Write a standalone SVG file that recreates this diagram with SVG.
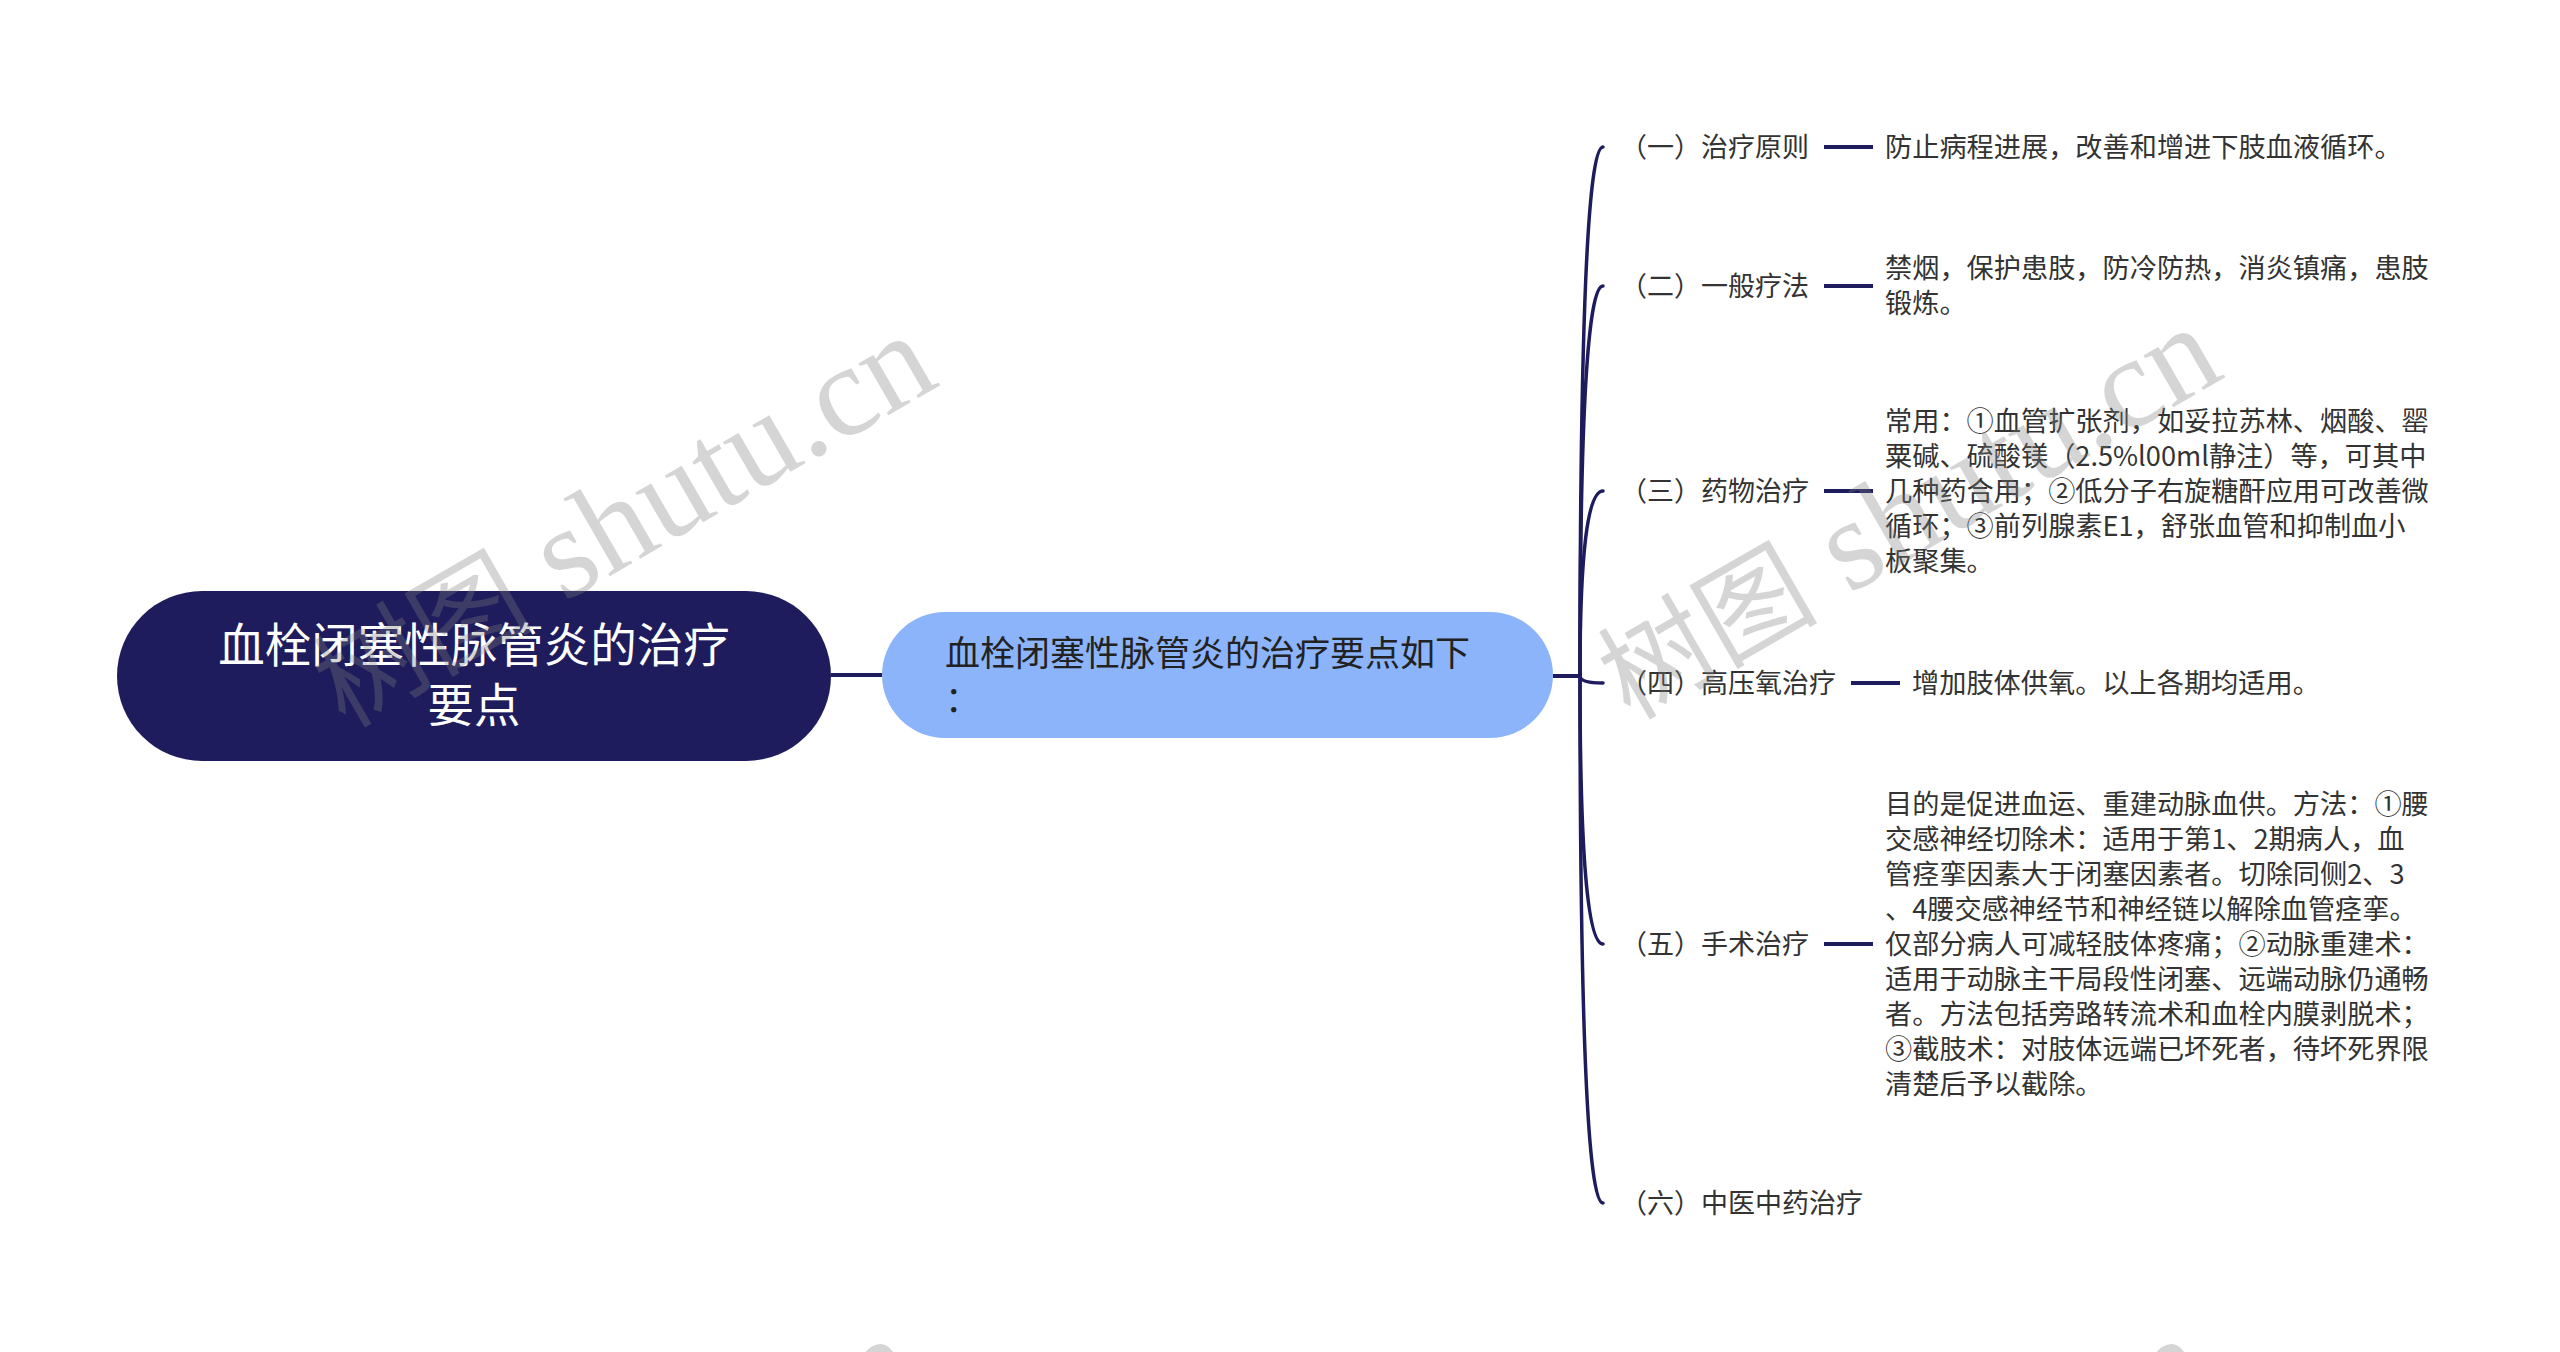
<svg xmlns="http://www.w3.org/2000/svg" width="2560" height="1352" viewBox="0 0 2560 1352">
<style>
.bg{fill:#ffffff}
.root{fill:#1e1c5c}
.main{fill:#8cb4fa}
.link{fill:none;stroke:#1e1c5c;stroke-width:3.5;stroke-linecap:round}
.tick{fill:none;stroke:#1e1c5c;stroke-width:4}
.t{font-family:"Noto Sans CJK SC","Noto Sans",sans-serif}
.rt{font-size:46.5px;fill:#ffffff}
.mt{font-size:35px;fill:#222222}
.lb{font-size:27px;fill:#333333}
.ct{font-size:27.2px;fill:#333333}
.wm{fill:#808080;opacity:0.32}
.wc{font-family:"Noto Sans CJK SC",sans-serif;font-size:110px}
.wl{font-family:"Liberation Serif",serif;font-size:130px}
</style>
<rect class="bg" x="0" y="0" width="2560" height="1352"/>
<g id="connectors">
<line class="tick" x1="831" y1="675" x2="882" y2="675"/>
<line class="tick" x1="1553" y1="676" x2="1580" y2="676"/>
<path class="link" d="M1580 676 Q1580 147 1603 147"/>
<path class="link" d="M1580 676 Q1580 286 1603 286"/>
<path class="link" d="M1580 676 Q1580 491 1603 491"/>
<path class="link" d="M1580 676 Q1580 683 1603 683"/>
<path class="link" d="M1580 676 Q1580 944 1603 944"/>
<path class="link" d="M1580 676 Q1580 1203 1603 1203"/>
<line class="tick" x1="1824" y1="147" x2="1873" y2="147"/>
<line class="tick" x1="1824" y1="286" x2="1873" y2="286"/>
<line class="tick" x1="1824" y1="491" x2="1873" y2="491"/>
<line class="tick" x1="1851" y1="683" x2="1900" y2="683"/>
<line class="tick" x1="1824" y1="944" x2="1873" y2="944"/>
</g>
<g id="root-node">
<rect class="root" x="117" y="591" width="714" height="170" rx="85" ry="85"/>
<text class="t rt" text-anchor="middle"><tspan x="474" y="662">血栓闭塞性脉管炎的治疗</tspan><tspan x="474" y="722">要点</tspan></text>
</g>
<g id="main-node">
<rect class="main" x="882" y="612" width="671" height="126" rx="63" ry="63"/>
<text class="t mt"><tspan x="945" y="666">血栓闭塞性脉管炎的治疗要点如下</tspan><tspan x="945" y="712">：</tspan></text>
</g>
<g id="n1">
<text class="t lb" x="1620" y="157">（一）治疗原则</text>
<text class="t ct" x="1885" y="157">防止病程进展，改善和增进下肢血液循环。</text>
</g>
<g id="n2">
<text class="t lb" x="1620" y="296">（二）一般疗法</text>
<text class="t ct"><tspan x="1885" y="278">禁烟，保护患肢，防冷防热，消炎镇痛，患肢</tspan><tspan x="1885" y="313">锻炼。</tspan></text>
</g>
<g id="n3">
<text class="t lb" x="1620" y="501">（三）药物治疗</text>
<text class="t ct"><tspan x="1885" y="431">常用：①血管扩张剂，如妥拉苏林、烟酸、罂</tspan><tspan x="1885" y="466">粟碱、硫酸镁（2.5%l00ml静注）等，可其中</tspan><tspan x="1885" y="501">几种药合用；②低分子右旋糖酐应用可改善微</tspan><tspan x="1885" y="536">循环；③前列腺素E1，舒张血管和抑制血小</tspan><tspan x="1885" y="571">板聚集。</tspan></text>
</g>
<g id="n4">
<text class="t lb" x="1620" y="693">（四）高压氧治疗</text>
<text class="t ct" x="1912" y="693">增加肢体供氧。以上各期均适用。</text>
</g>
<g id="n5">
<text class="t lb" x="1620" y="954">（五）手术治疗</text>
<text class="t ct"><tspan x="1885" y="814">目的是促进血运、重建动脉血供。方法：①腰</tspan><tspan x="1885" y="849">交感神经切除术：适用于第1、2期病人，血</tspan><tspan x="1885" y="884">管痉挛因素大于闭塞因素者。切除同侧2、3</tspan><tspan x="1885" y="919">、4腰交感神经节和神经链以解除血管痉挛。</tspan><tspan x="1885" y="954">仅部分病人可减轻肢体疼痛；②动脉重建术：</tspan><tspan x="1885" y="989">适用于动脉主干局段性闭塞、远端动脉仍通畅</tspan><tspan x="1885" y="1024">者。方法包括旁路转流术和血栓内膜剥脱术；</tspan><tspan x="1885" y="1059">③截肢术：对肢体远端已坏死者，待坏死界限</tspan><tspan x="1885" y="1094">清楚后予以截除。</tspan></text>
</g>
<g id="n6">
<text class="t lb" x="1620" y="1213">（六）中医中药治疗</text>
</g>
<g id="watermarks">
<text class="wm" transform="translate(345 729) rotate(-30)"><tspan class="wc">树图</tspan><tspan class="wl"> shutu.cn</tspan></text>
<text class="wm" transform="translate(1630 721) rotate(-30)"><tspan class="wc">树图</tspan><tspan class="wl"> shutu.cn</tspan></text>
<text class="wm" transform="translate(327 1732) rotate(-30)"><tspan class="wc">树图</tspan><tspan class="wl"> shutu.cn</tspan></text>
<text class="wm" transform="translate(1618 1732) rotate(-30)"><tspan class="wc">树图</tspan><tspan class="wl"> shutu.cn</tspan></text>
</g>
</svg>
